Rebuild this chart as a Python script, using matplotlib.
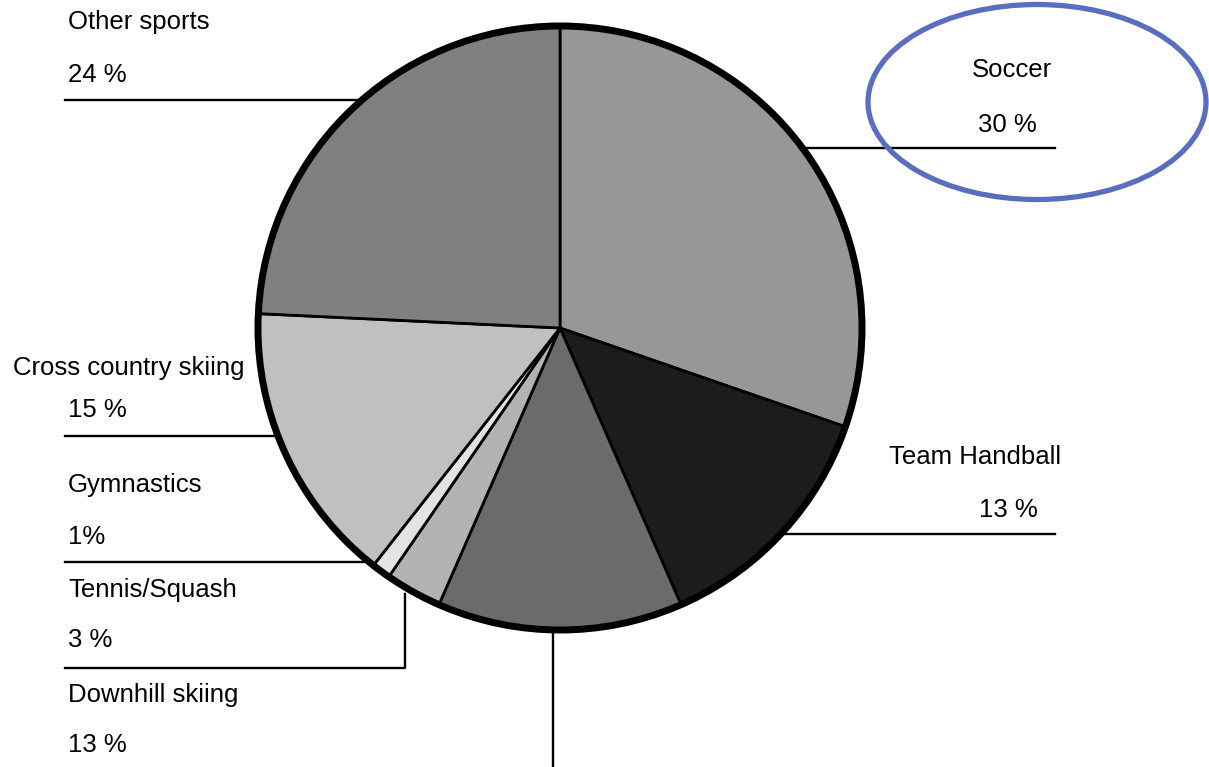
import numpy as np
import matplotlib
matplotlib.use("Agg")
from matplotlib import pyplot as plt
from matplotlib.patches import Circle, Ellipse

plt.rcParams['font.family'] = ['Liberation Sans', 'DejaVu Sans']

# data
sports = ['Soccer', 'Team Handball', 'Downhill skiing', 'Tennis/Squash',
          'Gymnastics', 'Cross country skiing', 'Other sports']
shares = [30, 13, 13, 3, 1, 15, 24]
share_txt = ['30 %', '13 %', '13 %', '3 %', '1%', '15 %', '24 %']
greys = ['#979797', '#1c1c1c', '#6b6b6b', '#b3b3b3', '#e3e3e3', '#c0c0c0', '#808080']

W, H = 1209, 767
cx, cy, r = 560, 328, 302

fig = plt.figure(figsize=(W / 100, H / 100), dpi=100)
ax = fig.add_axes([0, 0, 1, 1])

# y axis flipped -> pixel coords, so counterclock in data = clockwise on screen
ax.pie(shares, colors=greys, center=(cx, cy), radius=r, startangle=-90,
       counterclock=True, wedgeprops=dict(edgecolor='black', linewidth=2))
ax.add_patch(Circle((cx, cy), r, fill=False, edgecolor='black', linewidth=5, zorder=5))

def rim_x(y, side):
    # point on the circle at height y
    return cx + side * np.sqrt(r ** 2 - (y - cy) ** 2)

lw = 1.7
# leader lines
ax.plot([rim_x(148, 1) - 2, 1055], [148, 148], color='black', lw=lw)   # soccer
ax.plot([rim_x(534, 1) - 2, 1055], [534, 534], color='black', lw=lw)   # handball
ax.plot([553, 553], [cy + r, H], color='black', lw=lw)                 # downhill
ax.plot([405, 405, 65], [594, 668, 668], color='black', lw=lw)         # tennis
ax.plot([rim_x(562, -1) + 2, 65], [562, 562], color='black', lw=lw)    # gym
ax.plot([rim_x(436, -1) + 2, 65], [436, 436], color='black', lw=lw)    # cross
ax.plot([rim_x(100, -1) + 2, 65], [100, 100], color='black', lw=lw)    # other

fs = 18.5
# labels: (name x, name y, pct x, pct y, align)
lab = {
    'Soccer': (1012, 70, 1007, 125, 'center'),
    'Team Handball': (975, 457, 1008, 510, 'center'),
    'Downhill skiing': (68, 695, 68, 745, 'left'),
    'Tennis/Squash': (68, 590, 68, 640, 'left'),
    'Gymnastics': (68, 485, 68, 537, 'left'),
    'Cross country skiing': (13, 368, 68, 410, 'left'),
    'Other sports': (68, 22, 68, 75, 'left'),
}
for name, pct in zip(sports, share_txt):
    x1, y1, x2, y2, ha = lab[name]
    ax.text(x1, y1, name, fontsize=fs, ha=ha, va='center')
    ax.text(x2, y2, pct, fontsize=fs, ha=ha, va='center')

# blue ring around soccer label
ax.add_patch(Ellipse((1037, 102), 338, 195, fill=False, edgecolor='#5a6ec0',
                     linewidth=3.8, zorder=6))

ax.set_xlim(0, W)
ax.set_ylim(H, 0)
ax.set_aspect('equal')
ax.axis('off')

fig.savefig('out.png', dpi=100)
